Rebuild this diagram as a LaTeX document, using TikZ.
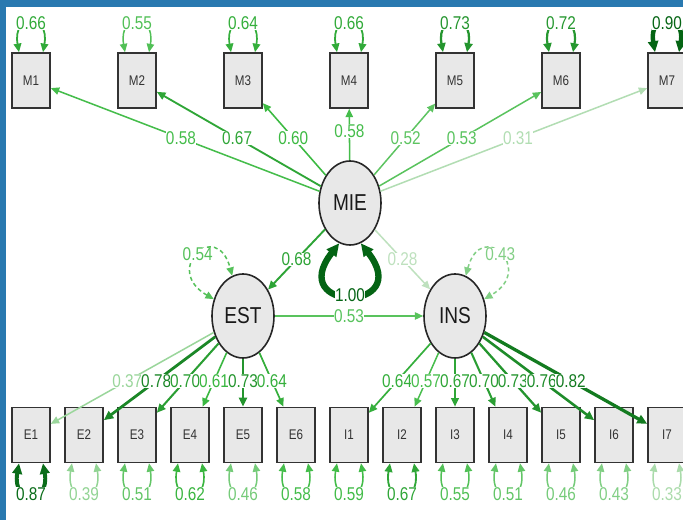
\documentclass[tikz,border=0pt]{standalone}
\usepackage{fontspec}
\setmainfont[FakeStretch=0.83]{Liberation Sans}
\usetikzlibrary{arrows.meta,shapes.geometric}

\definecolor{gpale}{RGB}{190,225,190}
\definecolor{gmid}{RGB}{60,186,66}
\definecolor{gdark}{RGB}{4,100,20}
\definecolor{frameblue}{RGB}{41,121,176}
\definecolor{nodefill}{RGB}{232,232,232}

% colour and width of a path from its standardised value
\newcommand\setsem[1]{%
  \pgfmathtruncatemacro\semlow{(#1)<=0.6}%
  \ifnum\semlow=1
    \pgfmathtruncatemacro\semp{max(0,min(100,((#1)-0.28)/0.32*100))}%
    \colorlet{semc}{gmid!\semp!gpale}%
  \else
    \pgfmathtruncatemacro\semp{max(0,min(100,((#1)-0.6)/0.3*100))}%
    \colorlet{semc}{gdark!\semp!gmid}%
  \fi
  \pgfmathsetmacro\semlw{1.5+24*(max(0,(#1)-0.55))^2}%
}

\tikzset{
  semset/.style={/utils/exec={\setsem{#1}}},
  sem/.style={semset=#1, draw=semc, line width=\semlw pt},
  headarrow/.style={-{Triangle[length=7pt 0.9,width=6pt 0.9]}},
  twoheads/.style={{Triangle[length=7pt 0.9,width=6pt 0.9]}-{Triangle[length=7pt 0.9,width=6pt 0.9]}},
  lbl/.style={fill=white, inner sep=0.4pt, text=semc, font=\fontsize{18.5}{18.5}\selectfont},
  manifest/.style={rectangle, draw=black!80, fill=nodefill, line width=1.6pt,
    minimum width=38pt, minimum height=55pt, inner sep=0pt,
    font=\fontsize{14}{14}\selectfont, text=black!80},
  latent/.style={ellipse, draw=black!85, fill=nodefill, line width=1.6pt,
    minimum width=62pt, minimum height=84pt, inner sep=0pt,
    font=\fontsize{23}{23}\selectfont, text=black!90},
  resid/.style={dash pattern=on 4pt off 3pt}
}

\begin{document}
\begin{tikzpicture}[x=1pt,y=1pt]
\useasboundingbox (0,0) rectangle (683,520);
\fill[white] (0,0) rectangle (683,520);
\fill[frameblue] (0,0) rectangle (6,520);
\fill[frameblue] (0,513) rectangle (683,520);

% observed indicators
\foreach \k in {1,...,7} \node[manifest] (M\k) at ({31+106*(\k-1)},439.5) {M\k};
\foreach \k in {1,...,6} \node[manifest] (E\k) at ({31+53*(\k-1)},85) {E\k};
\foreach \k in {1,...,7} \node[manifest] (I\k) at ({349+53*(\k-1)},85) {I\k};

% latent factors
\node[latent] (MIE) at (350,317) {MIE};
\node[latent] (EST) at (243,204) {EST};
\node[latent] (INS) at (455,204) {INS};

% factor loadings
\foreach \k/\v in {1/0.58,2/0.67,3/0.60,4/0.58,5/0.52,6/0.53,7/0.31}
  \draw[sem=\v, headarrow] (MIE) -- (M\k);
\foreach \k/\v in {1/0.37,2/0.78,3/0.70,4/0.61,5/0.73,6/0.64}
  \draw[sem=\v, headarrow] (EST) -- (E\k);
\foreach \k/\v in {1/0.64,2/0.57,3/0.67,4/0.70,5/0.73,6/0.76,7/0.82}
  \draw[sem=\v, headarrow] (INS) -- (I\k);

% structural paths
\draw[sem=0.68, headarrow] (MIE) -- (EST);
\draw[sem=0.28, headarrow] (MIE) -- (INS);
\draw[sem=0.53, headarrow] (EST) -- (INS);

% residual variances of the indicators
\foreach \k/\v in {1/0.66,2/0.55,3/0.64,4/0.66,5/0.73,6/0.72,7/0.90}
  \draw[sem=\v, twoheads] ([xshift=-12pt]M\k.north) .. controls +(100:40) and +(80:40) ..
    ([xshift=12pt]M\k.north) node[pos=0.5, lbl] (vm\k) {\v};
\foreach \k/\v in {1/0.87,2/0.39,3/0.51,4/0.62,5/0.46,6/0.58}
  \draw[sem=\v, twoheads] ([xshift=-12pt]E\k.south) .. controls +(-100:42) and +(-80:42) ..
    ([xshift=12pt]E\k.south) node[pos=0.5, lbl] (ve\k) {\v};
\foreach \k/\v in {1/0.59,2/0.67,3/0.55,4/0.51,5/0.46,6/0.43,7/0.33}
  \draw[sem=\v, twoheads] ([xshift=-12pt]I\k.south) .. controls +(-100:42) and +(-80:42) ..
    ([xshift=12pt]I\k.south) node[pos=0.5, lbl] (vi\k) {\v};

% variances of the factors
\draw[sem=0.54, twoheads, resid] (EST.150) .. controls +(150:60) and +(105:60) .. (EST.105)
  node[pos=0.5, lbl] (vest) {0.54};
\draw[sem=0.43, twoheads, resid] (INS.75) .. controls +(75:60) and +(30:60) .. (INS.30)
  node[pos=0.5, lbl] (vins) {0.43};
\draw[sem=1.00, twoheads] (MIE.-105) .. controls +(-128:88) and +(-52:88) .. (MIE.-75)
  node[pos=0.5, lbl] (vmie) {1.00};

% loading labels
\foreach \k/\v/\p in {1/0.58/0.53,2/0.67/0.53,3/0.60/0.53,4/0.58/0.59,5/0.52/0.53,6/0.53/0.53,7/0.31/0.53}
  \path (MIE.center) -- (M\k.center) node[pos=\p, semset=\v, lbl] (lm\k) {\v};
\foreach \k/\v in {1/0.37,2/0.78,3/0.70,4/0.61,5/0.73,6/0.64}
  \path (EST.center) -- (E\k.center) node[pos=0.546, semset=\v, lbl] (le\k) {\v};
\foreach \k/\v in {1/0.64,2/0.57,3/0.67,4/0.70,5/0.73,6/0.76,7/0.82}
  \path (INS.center) -- (I\k.center) node[pos=0.546, semset=\v, lbl] (li\k) {\v};

% structural labels
\path (MIE.center) -- (EST.center) node[pos=0.5, semset=0.68, lbl] (lest) {0.68};
\path (MIE.center) -- (INS.center) node[pos=0.5, semset=0.28, lbl] (lins) {0.28};
\path (EST.center) -- (INS.center) node[pos=0.5, semset=0.53, lbl] (lei) {0.53};
\end{tikzpicture}
\end{document}
